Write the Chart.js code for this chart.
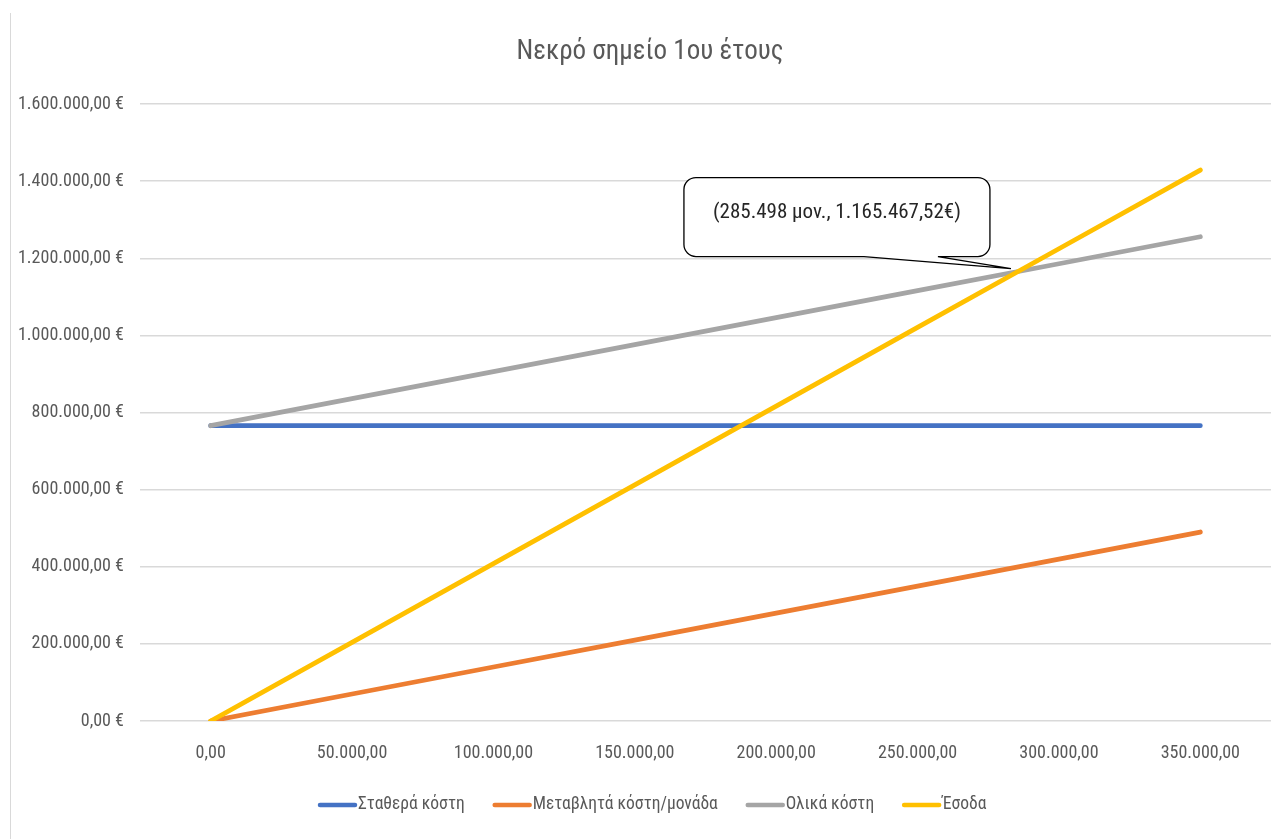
<!DOCTYPE html>
<html lang="el">
<head>
<meta charset="utf-8">
<title>Νεκρό σημείο 1ου έτους</title>
<script src="https://cdn.jsdelivr.net/npm/chart.js@4.4.1/dist/chart.umd.min.js"></script>
<style>
  html, body { margin: 0; padding: 0; background: #ffffff; }
  #wrap { position: relative; width: 1274px; height: 839px; }
  canvas { display: block; }
</style>
</head>
<body>
<div id="wrap"><canvas id="chart" width="1274" height="839"></canvas></div>
<script>
// Units produced (x categories)
const units = [0, 50000, 100000, 150000, 200000, 250000, 300000, 350000];

// Cost / revenue series in euro
const fixedCosts    = [765770, 765770, 765770, 765770, 765770, 765770, 765770, 765770];
const variableCosts = [0, 70000, 140000, 210000, 280000, 350000, 420000, 490000];
const totalCosts    = [765770, 835770, 905770, 975770, 1045770, 1115770, 1185770, 1255770];
const revenue       = [0, 204110, 408220, 612330, 816440, 1020550, 1224660, 1428770];

// Y-axis tick values
const yTicks = [0, 200000, 400000, 600000, 800000, 1000000, 1200000, 1400000, 1600000];

// Break-even point
const breakEvenUnits = 285498;
const breakEvenValue = 1165467.52;

const chartTitle = 'Νεκρό σημείο 1ου έτους';

const FONT = '"Liberation Sans Narrow", "Roboto Condensed", "DejaVu Sans Condensed", "Open Sans", sans-serif';
const TEXT = '#595959';

// Greek number format: 1.234.567,89
function fmt(v, decimals) {
  const fixed = Math.abs(v).toFixed(decimals);
  const [intPart, dec] = fixed.split('.');
  const grouped = intPart.replace(/\B(?=(\d{3})+(?!\d))/g, '.');
  return (v < 0 ? '-' : '') + grouped + (dec !== undefined ? ',' + dec : '');
}

const categoryLabels = units.map(u => fmt(u, 2));

// Background, left frame line and title
const framePlugin = {
  id: 'frame',
  beforeDraw(chart) {
    const ctx = chart.ctx;
    ctx.save();
    ctx.fillStyle = '#ffffff';
    ctx.fillRect(0, 0, chart.width, chart.height);
    ctx.strokeStyle = '#d9d9d9';
    ctx.lineWidth = 1;
    ctx.beginPath();
    ctx.moveTo(10.5, 13);
    ctx.lineTo(10.5, chart.height);
    ctx.stroke();

    ctx.fillStyle = TEXT;
    ctx.font = '27px ' + FONT;
    ctx.textAlign = 'center';
    ctx.textBaseline = 'middle';
    ctx.fillText(chartTitle, 650, 52);
    ctx.restore();
  }
};

// Legend: line sample followed directly by the series name
const legendPlugin = {
  id: 'lineLegend',
  afterDraw(chart) {
    const ctx = chart.ctx;
    ctx.save();
    ctx.font = '17.5px ' + FONT;
    ctx.textBaseline = 'middle';
    ctx.textAlign = 'left';
    const y = 805;
    let x = 318;
    chart.data.datasets.forEach(ds => {
      ctx.strokeStyle = ds.borderColor;
      ctx.lineWidth = 4.5;
      ctx.lineCap = 'round';
      ctx.beginPath();
      ctx.moveTo(x + 2, y);
      ctx.lineTo(x + 37, y);
      ctx.stroke();
      x += 40;
      ctx.fillStyle = TEXT;
      ctx.fillText(ds.label, x, y);
      x += ctx.measureText(ds.label).width + 28;
    });
    ctx.restore();
  }
};

// Speech-bubble callout pointing to the break-even point
const calloutPlugin = {
  id: 'callout',
  afterDatasetsDraw(chart) {
    const xs = chart.scales.x, ys = chart.scales.y;
    const idx = breakEvenUnits / 50000;
    const i0 = Math.floor(idx), f = idx - i0;
    const tipX = xs.getPixelForValue(i0) + f * (xs.getPixelForValue(i0 + 1) - xs.getPixelForValue(i0));
    const tipY = ys.getPixelForValue(breakEvenValue);

    const left = tipX - 334, right = tipX - 28;
    const top = tipY - 94, bottom = tipY - 15;
    const r = 12;
    const baseL = tipX - 154, baseR = tipX - 80;

    const ctx = chart.ctx;
    ctx.save();
    ctx.beginPath();
    ctx.moveTo(left + r, top);
    ctx.lineTo(right - r, top);
    ctx.arcTo(right, top, right, top + r, r);
    ctx.lineTo(right, bottom - r);
    ctx.arcTo(right, bottom, right - r, bottom, r);
    ctx.lineTo(baseR, bottom);
    ctx.lineTo(tipX - 7, tipY - 3);
    ctx.lineTo(baseL, bottom);
    ctx.lineTo(left + r, bottom);
    ctx.arcTo(left, bottom, left, bottom - r, r);
    ctx.lineTo(left, top + r);
    ctx.arcTo(left, top, left + r, top, r);
    ctx.closePath();
    ctx.fillStyle = '#ffffff';
    ctx.fill();
    ctx.strokeStyle = '#000000';
    ctx.lineWidth = 1.3;
    ctx.stroke();

    ctx.fillStyle = '#262626';
    ctx.font = '21px ' + FONT;
    ctx.textAlign = 'center';
    ctx.textBaseline = 'middle';
    const label = '(' + fmt(breakEvenUnits, 0) + ' μον., ' + fmt(breakEvenValue, 2) + '€)';
    ctx.fillText(label, left + 153, top + 35);
    ctx.restore();
  }
};

const lineStyle = { borderWidth: 4.8, pointRadius: 0, pointHoverRadius: 0, borderCapStyle: 'round', borderJoinStyle: 'round', fill: false, tension: 0 };

new Chart(document.getElementById('chart'), {
  type: 'line',
  data: {
    labels: categoryLabels,
    datasets: [
      { label: 'Σταθερά κόστη', data: fixedCosts, borderColor: '#4472C4', backgroundColor: '#4472C4', order: 3, ...lineStyle },
      { label: 'Μεταβλητά κόστη/μονάδα', data: variableCosts, borderColor: '#ED7D31', backgroundColor: '#ED7D31', order: 2, ...lineStyle },
      { label: 'Ολικά κόστη', data: totalCosts, borderColor: '#A5A5A5', backgroundColor: '#A5A5A5', order: 1, ...lineStyle },
      { label: 'Έσοδα', data: revenue, borderColor: '#FFC000', backgroundColor: '#FFC000', order: 0, ...lineStyle }
    ]
  },
  options: {
    responsive: false,
    animation: false,
    events: [],
    layout: { padding: { left: 10, right: 3, top: 104, bottom: 56 } },
    plugins: {
      title: { display: false },
      legend: { display: false },
      tooltip: { enabled: false }
    },
    scales: {
      x: {
        type: 'category',
        offset: true,
        grid: { display: false, drawTicks: false },
        border: { display: false },
        ticks: { color: TEXT, font: { family: FONT, size: 18 }, padding: 22, maxRotation: 0, autoSkip: false },
        afterFit(scale) { scale.height = 62; }
      },
      y: {
        min: 0,
        max: 1600000,
        afterBuildTicks(scale) { scale.ticks = yTicks.map(v => ({ value: v })); },
        grid: { color: '#d9d9d9', lineWidth: 1.5, drawTicks: false },
        border: { display: false },
        ticks: {
          color: TEXT,
          font: { family: FONT, size: 18 },
          padding: 16,
          callback: v => fmt(v, 2) + ' €'
        },
        afterFit(scale) { scale.width = 130; }
      }
    }
  },
  plugins: [framePlugin, calloutPlugin, legendPlugin]
});
</script>
</body>
</html>
